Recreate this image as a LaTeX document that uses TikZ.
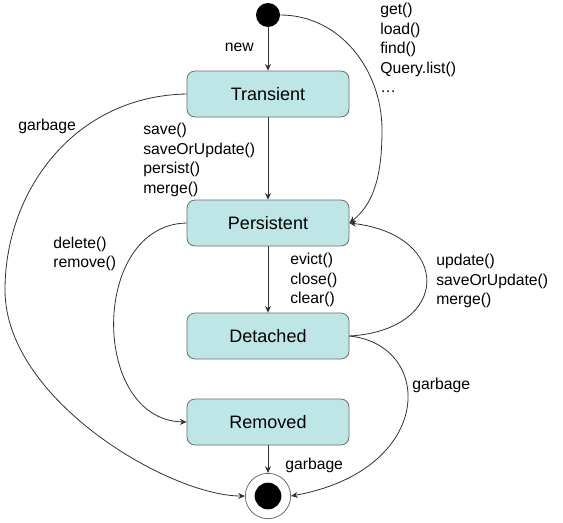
\documentclass[tikz,border=0pt]{standalone}
\usepackage{fontspec}
\setmainfont{Liberation Sans}
\usetikzlibrary{arrows.meta}
\definecolor{boxfill}{RGB}{190,230,231}
\definecolor{boxline}{RGB}{110,110,110}
\definecolor{lineclr}{RGB}{50,50,50}
\begin{document}
\begin{tikzpicture}[x=0.75pt,y=-0.75pt,
  state/.style={draw=boxline, fill=boxfill, rounded corners=6pt, minimum width=121.5pt, minimum height=34.5pt, inner sep=0pt, font=\fontsize{13.5}{16}\selectfont, line width=0.6pt},
  lbl/.style={font=\fontsize{11.8}{14.6}\selectfont, align=left, inner sep=0pt, text=black},
  conn/.style={draw=lineclr, line width=0.6pt, -{Stealth[length=5pt,width=4.5pt]}},
]
\useasboundingbox[fill=white] (0,0) rectangle (563,522);
% states
\node[state] (tr) at (268,94) {Transient};
\node[state] (ps) at (268,223) {Persistent};
\node[state] (dt) at (268,336) {Detached};
\node[state] (rm) at (268,422) {Removed};
\node[circle, fill=black, minimum size=18pt, inner sep=0pt] (init) at (268,15) {};
\node[circle, draw=boxline, fill=white, line width=0.6pt, minimum size=34pt, inner sep=0pt] (fin) at (268,496) {};
\node[circle, fill=black, minimum size=20pt, inner sep=0pt] (finin) at (268,496) {};
\coordinate (gl) at (5,290);
\coordinate (gr) at (382,130);
% straight connectors
\draw[conn] (init) -- (tr);
\draw[conn] (tr) -- (ps);
\draw[conn] (ps) -- (dt);
\draw[conn] (rm) -- (fin);
% curved connectors
\draw[conn] (init.east) .. controls (340,15) and (382,70) .. (gr) .. controls (382,180) and (372,205) .. (ps.east);
\draw[conn] (tr.west) .. controls (75,96) and (5,190) .. (gl) .. controls (5,400) and (170,496) .. (fin.west);
\draw[conn] (ps.west) .. controls (90,225) and (90,420) .. (rm.west);
\draw[conn] (dt.east) .. controls (452,330) and (452,235) .. (ps.east);
\draw[conn] (dt.east) .. controls (435,345) and (435,470) .. (fin.east);
% labels
\node[lbl, anchor=east] (lnew) at (254,47) {new};
\node[lbl, anchor=west] (lget) at (380,48) {get()\\load()\\find()\\Query.list()\\\dots};
\node[lbl, anchor=west] (lsave) at (143,160) {save()\\saveOrUpdate()\\persist()\\merge()};
\node[lbl, anchor=west] (lg1) at (18,126) {garbage};
\node[lbl, anchor=west] (ldel) at (53,254) {delete()\\remove()};
\node[lbl, anchor=west] (lev) at (290,280) {evict()\\close()\\clear()};
\node[lbl, anchor=west] (lup) at (436,281) {update()\\saveOrUpdate()\\merge()};
\node[lbl, anchor=west] (lg2) at (412,385) {garbage};
\node[lbl, anchor=west] (lg3) at (285,465) {garbage};
\end{tikzpicture}
\end{document}
